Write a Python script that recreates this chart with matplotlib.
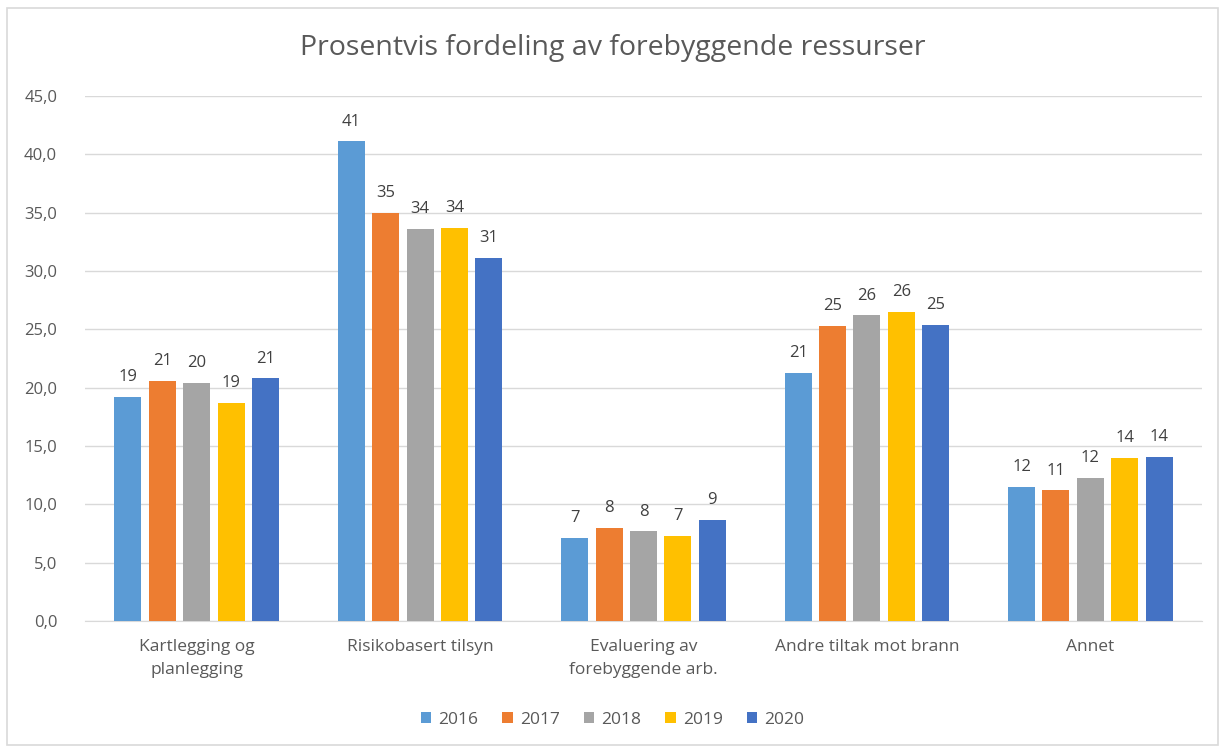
import matplotlib.pyplot as plt
import numpy as np
from matplotlib.patches import Rectangle
from matplotlib.ticker import FuncFormatter

categories = ["Kartlegging og\nplanlegging", "Risikobasert tilsyn",
              "Evaluering av\nforebyggende arb.", "Andre tiltak mot brann", "Annet"]
years = ["2016", "2017", "2018", "2019", "2020"]
values = {
    "2016": [19.2, 41.1, 7.1, 21.3, 11.5],
    "2017": [20.6, 35.0, 8.0, 25.3, 11.2],
    "2018": [20.4, 33.6, 7.7, 26.2, 12.3],
    "2019": [18.7, 33.7, 7.3, 26.5, 14.0],
    "2020": [20.8, 31.1, 8.7, 25.4, 14.1],
}
colors = ["#5B9BD5", "#ED7D31", "#A5A5A5", "#FFC000", "#4472C4"]

plt.rcParams['font.family'] = ['Open Sans', 'DejaVu Sans']
text_color = "#595959"

fig = plt.figure(figsize=(12.25, 7.49), dpi=100)
fig.patches.append(Rectangle((7 / 1225, 4 / 749), 1 - 14 / 1225, 1 - 12 / 749,
                             transform=fig.transFigure, fill=False,
                             edgecolor="#D9D9D9", linewidth=1.2))
ax = fig.add_axes([85 / 1225, 1 - 621 / 749, (1202 - 85) / 1225, (621 - 96) / 749])

x = np.arange(len(categories))
width = 0.121
step = 0.154
for i, year in enumerate(years):
    pos = x + (i - 2) * step
    bars = ax.bar(pos, values[year], width, color=colors[i], label=year, zorder=3)
    for b, v in zip(bars, values[year]):
        ax.text(b.get_x() + b.get_width() / 2, v + 1.0, f"{v:.0f}",
                ha="center", va="bottom", fontsize=12, color="#404040")

ax.set_xlim(-0.5, len(categories) - 0.5)
ax.set_ylim(0, 45)
ax.set_yticks(np.arange(0, 46, 5))
ax.yaxis.set_major_formatter(FuncFormatter(lambda v, p: f"{v:.1f}".replace(".", ",")))
ax.grid(axis="y", color="#D9D9D9", linewidth=1, zorder=0)
ax.set_xticks(x)
ax.set_xticklabels(categories, fontsize=12.5, color=text_color, linespacing=1.55)
ax.tick_params(axis="y", labelsize=12, labelcolor=text_color, length=0, pad=20)
ax.tick_params(axis="x", length=0, pad=13)
for s in ["top", "right", "left"]:
    ax.spines[s].set_visible(False)
ax.spines["bottom"].set_color("#D9D9D9")

fig.text(0.5, 1 - 48 / 749, "Prosentvis fordeling av forebyggende ressurser",
         ha="center", va="center", fontsize=20.5, color=text_color)
fig.legend(loc="center", bbox_to_anchor=(0.5, 1 - 720 / 749), ncol=5, frameon=False,
           fontsize=12.5, handlelength=0.6, handleheight=0.6, handletextpad=0.4,
           columnspacing=1.4, labelcolor=text_color)

fig.savefig("out.png", dpi=100)
